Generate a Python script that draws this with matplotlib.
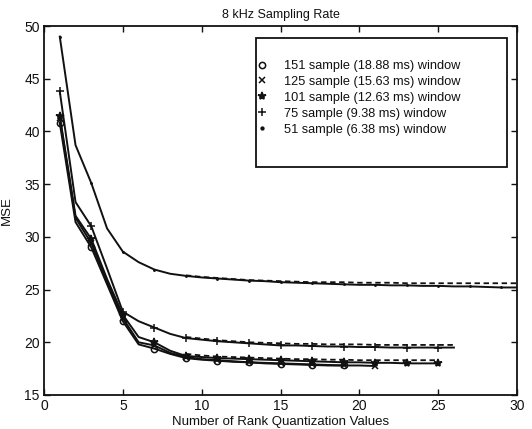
import matplotlib
matplotlib.use("Agg")
import matplotlib.pyplot as plt
from matplotlib.lines import Line2D
from matplotlib.patches import Rectangle
import numpy as np

plt.rcParams['font.family'] = ['Liberation Sans', 'DejaVu Sans']

title = "8 kHz Sampling Rate"
xlabel = "Number of Rank Quantization Values"
ylabel = "MSE"
labels = ["151 sample (18.88 ms) window",
          "125 sample (15.63 ms) window",
          "101 sample (12.63 ms) window",
          "75 sample (9.38 ms) window",
          "51 sample (6.38 ms) window"]
markers = ["o", "x", "*", "+", "."]

# solid curves (values at x = 1, 2, 3, ...)
mse_151 = [40.8, 31.4, 29.0, 25.5, 22.0, 19.8, 19.4, 18.9, 18.5, 18.35, 18.25, 18.15,
           18.1, 18.0, 17.95, 17.9, 17.85, 17.8, 17.8]
mse_125 = [41.3, 31.8, 29.4, 25.8, 22.3, 20.0, 19.7, 19.0, 18.6, 18.4, 18.3, 18.2,
           18.1, 18.05, 18.0, 17.95, 17.9, 17.85, 17.8, 17.8, 17.75]
mse_101 = [41.5, 32.0, 29.8, 26.0, 22.6, 20.5, 20.0, 19.2, 18.7, 18.6, 18.5, 18.45,
           18.4, 18.35, 18.3, 18.25, 18.2, 18.15, 18.1, 18.1, 18.05, 18.05, 18.0,
           18.0, 18.0]
mse_75 = [43.8, 33.3, 31.0, 27.0, 22.9, 22.0, 21.4, 20.8, 20.4, 20.25, 20.1, 20.0,
          19.9, 19.8, 19.7, 19.7, 19.65, 19.6, 19.6, 19.55, 19.55, 19.5, 19.5, 19.5,
          19.5, 19.5]
mse_51 = [49.0, 38.7, 35.1, 30.8, 28.6, 27.6, 26.9, 26.5, 26.3, 26.15, 26.05, 25.95,
          25.85, 25.8, 25.7, 25.65, 25.6, 25.55, 25.5, 25.45, 25.45, 25.4, 25.4, 25.35,
          25.35, 25.3, 25.3, 25.25, 25.2, 25.2]

# dashed companion curves (start at x = 9)
dash_101 = [18.9, 18.75, 18.65, 18.6, 18.55, 18.5, 18.45, 18.4, 18.4, 18.35, 18.35,
            18.3, 18.3, 18.3, 18.3, 18.3, 18.3]
dash_75 = [20.5, 20.35, 20.2, 20.1, 20.0, 19.95, 19.9, 19.85, 19.85, 19.8, 19.8,
           19.8, 19.75, 19.75, 19.75, 19.75, 19.75, 19.75]
dash_51 = [26.35, 26.2, 26.1, 26.0, 25.9, 25.85, 25.8, 25.75, 25.7, 25.7, 25.7,
           25.65, 25.65, 25.65, 25.6, 25.6, 25.6, 25.6, 25.6, 25.6, 25.6, 25.6]

W, H = 532, 429
fig = plt.figure(figsize=(W / 100, H / 100), dpi=100)
L, R, T, B = 44, 517, 26, 395
ax = fig.add_axes([L / W, 1 - B / H, (R - L) / W, (B - T) / H])

col = "#111111"
series = [mse_151, mse_125, mse_101, mse_75, mse_51]
msz = {"o": 4.5, "x": 4.5, "*": 6, "+": 6, ".": 2}
for ys, m in zip(series, markers):
    xs = np.arange(1, len(ys) + 1)
    ax.plot(xs, ys, color=col, lw=1.4, marker=m, markevery=2, ms=msz[m],
            mfc="none" if m == "o" else col, mec=col, mew=1.1)

for ys in [dash_101, dash_75, dash_51]:
    xs = np.arange(9, 9 + len(ys))
    ax.plot(xs, ys, color=col, lw=1.3, ls=(0, (3, 2)))

ax.set_xlim(0, 30)
ax.set_ylim(15, 50)
ax.set_xticks([0, 5, 10, 15, 20, 25, 30])
ax.set_yticks([15, 20, 25, 30, 35, 40, 45, 50])
ax.tick_params(direction="in", top=True, right=True, length=4, width=1,
               labelsize=10, colors=col, pad=3)
for s in ax.spines.values():
    s.set_linewidth(1.3)
    s.set_color(col)

ax.set_title(title, fontsize=9, color=col, pad=6)
ax.set_xlabel(xlabel, fontsize=9.5, color=col, labelpad=2)
ax.set_ylabel(ylabel, fontsize=9.5, color=col, labelpad=8)

# legend frame
x0 = (256 - L) / (R - L)
x1 = (507 - L) / (R - L)
y0 = (B - 167) / (B - T)
y1 = (B - 38) / (B - T)
ax.add_patch(Rectangle((x0, y0), x1 - x0, y1 - y0, transform=ax.transAxes,
                       fill=True, facecolor="white", edgecolor=col, lw=1.3, zorder=5))

handles = [Line2D([], [], ls="none", marker=m, ms=(4 if m == "." else msz[m]), color=col,
                  mfc="none" if m == "o" else col, mew=1.1) for m in markers]
leg = ax.legend(handles, labels, loc="upper left",
                bbox_to_anchor=((256 - L) / (R - L), (B - 60) / (B - T)),
                frameon=False, fontsize=9.2, handlelength=1.0, handletextpad=1.2,
                borderaxespad=0, borderpad=0, labelspacing=0.31)
leg.set_zorder(6)
for t in leg.get_texts():
    t.set_color(col)

fig.savefig("out.png", dpi=100)
